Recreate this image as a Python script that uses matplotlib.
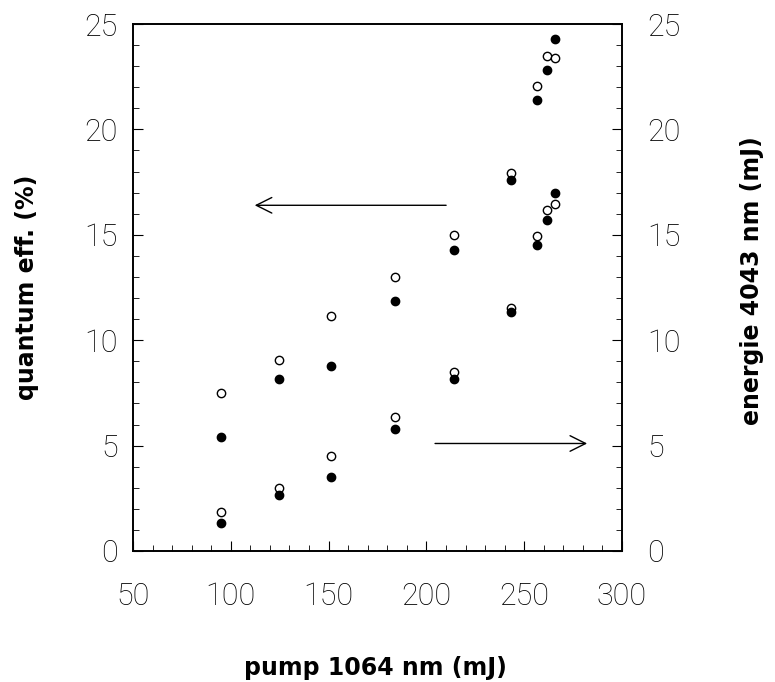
import matplotlib
matplotlib.use("Agg")
import matplotlib.pyplot as plt
from matplotlib.ticker import MultipleLocator

# pump energy 1064 nm (mJ)
pump = [95, 124.6, 151.2, 184, 214, 243, 256.5, 261.6, 265.7]

# quantum efficiency (%), left axis
qe_open = [7.5, 9.05, 11.15, 13.0, 15.0, 17.95, 22.05, 23.5, 23.4]
qe_filled = [5.4, 8.15, 8.77, 11.85, 14.27, 17.6, 21.4, 22.8, 24.3]

# energy 4043 nm (mJ), right axis
en_open = [1.85, 3.0, 4.5, 6.35, 8.5, 11.55, 14.93, 16.2, 16.45]
en_filled = [1.33, 2.65, 3.5, 5.78, 8.15, 11.33, 14.5, 15.7, 16.97]

tick_font = dict(family=["Roboto", "DejaVu Sans"], weight="light", size=22)
label_font = dict(family=["DejaVu Sans"], weight="bold", size=17)

fig = plt.figure(figsize=(7.75, 6.82), dpi=100)
ax = fig.add_axes([0.1716, 0.1921, 0.631, 0.7727])
ax2 = ax.twinx()

ax.plot(pump, qe_open, "o", mfc="white", mec="black", mew=1.0, ms=6)
ax.plot(pump, qe_filled, "o", mfc="black", mec="black", ms=6)
ax2.plot(pump, en_open, "o", mfc="white", mec="black", mew=1.0, ms=6)
ax2.plot(pump, en_filled, "o", mfc="black", mec="black", ms=6)

ax.set_xlim(50, 300)
ax.set_ylim(0, 25)
ax2.set_ylim(0, 25)

# arrows pointing to the axis each group belongs to
ax.annotate("", xy=(110.8, 16.4), xytext=(211.5, 16.4),
            arrowprops=dict(arrowstyle="->", lw=1.0, color="black",
                            mutation_scale=28))
ax.annotate("", xy=(283.6, 5.1), xytext=(203, 5.1),
            arrowprops=dict(arrowstyle="->", lw=1.0, color="black",
                            mutation_scale=28))

for a in (ax, ax2):
    for s in a.spines.values():
        s.set_linewidth(1.2)
    a.yaxis.set_major_locator(MultipleLocator(5))
    a.yaxis.set_minor_locator(MultipleLocator(1))

ax.xaxis.set_major_locator(MultipleLocator(50))
ax.xaxis.set_minor_locator(MultipleLocator(10))
ax.tick_params(axis="x", which="both", direction="in", top=False, pad=22)
ax.tick_params(axis="x", which="major", length=7)
ax.tick_params(axis="x", which="minor", length=4)
ax.tick_params(axis="y", which="both", direction="in", right=False, pad=11)
ax.tick_params(axis="y", which="major", length=7)
ax.tick_params(axis="y", which="minor", length=4)
ax2.tick_params(axis="y", which="both", direction="in", pad=18)
ax2.tick_params(axis="y", which="major", length=7)
ax2.tick_params(axis="y", which="minor", length=4)

for lab in ax.get_xticklabels() + ax.get_yticklabels() + ax2.get_yticklabels():
    lab.set_fontfamily(tick_font["family"])
    lab.set_fontweight(tick_font["weight"])
    lab.set_fontsize(tick_font["size"])

fig.text(0.035, 0.579, "quantum eff. (%)", rotation=90, ha="center", va="center", **label_font)
fig.text(0.485, 0.0103, "pump 1064 nm (mJ)", ha="center", va="baseline", **label_font)
fig.text(0.970, 0.589, "energie 4043 nm (mJ)", rotation=90, ha="center", va="center", **label_font)

fig.savefig("out.png", dpi=100)
